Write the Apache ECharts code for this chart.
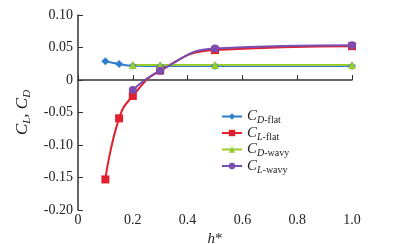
<!DOCTYPE html>
<html><head><meta charset="utf-8">
<script src="https://cdn.jsdelivr.net/npm/echarts@6/dist/echarts.min.js"></script>
<style>html,body{margin:0;padding:0;background:#fff}#c{width:403px;height:244px}</style>
</head><body><div id="c"></div>
<script>
const xFlat = [0.1, 0.15, 0.2, 0.3, 0.5, 1.0];
const cdFlat = [0.029, 0.0245, 0.022, 0.0215, 0.0215, 0.0215];
const clFlat = [-0.153, -0.059, -0.0245, 0.0145, 0.046, 0.052];
const xWavy = [0.2, 0.3, 0.5, 1.0];
const cdWavy = [0.023, 0.023, 0.023, 0.023];
const clWavy = [-0.0155, 0.0143, 0.0485, 0.0535];
const xTicks = [0, 0.2, 0.4, 0.6, 0.8, 1.0];
const yTicks = [-0.20, -0.15, -0.10, -0.05, 0, 0.05, 0.10];

const pair = (xs, ys) => xs.map((x, i) => [x, ys[i]]);
const font = 'Liberation Serif';
const rich = {
  c: {fontFamily: font, fontStyle: 'italic', fontSize: 15, color: '#222'},
  s: {fontFamily: font, fontStyle: 'italic', fontSize: 10, color: '#222', verticalAlign: 'bottom', padding: [8, 0, 0, 0]},
  n: {fontFamily: font, fontSize: 10, color: '#222', verticalAlign: 'bottom', padding: [8, 0, 0, 0]}
};
const richY = {
  c: {fontFamily: font, fontStyle: 'italic', fontSize: 17, color: '#222'},
  s: {fontFamily: font, fontStyle: 'italic', fontSize: 11, color: '#222', verticalAlign: 'bottom', padding: [9, 0, 0, 0]}
};
const legendNames = {
  'CD-flat': '{c|C}{s|D}{n|-flat}',
  'CL-flat': '{c|C}{s|L}{n|-flat}',
  'CD-wavy': '{c|C}{s|D}{n|-wavy}',
  'CL-wavy': '{c|C}{s|L}{n|-wavy}'
};
const colors = ['#2f7fd0', '#e0202c', '#9bcc2e', '#7a4db2'];
const chart = echarts.init(document.getElementById('c'));
chart.setOption({
  animation: false,
  color: colors,
  grid: {left: 78, right: 51, top: 15, bottom: 34, containLabel: false, outerBoundsMode: 'none'},
  legend: {
    orient: 'vertical', left: 216, top: 104, itemWidth: 20, itemHeight: 8, itemGap: 0,
    data: ['CD-flat', 'CL-flat', 'CD-wavy', 'CL-wavy'],
    formatter: n => legendNames[n],
    textStyle: {rich: rich, fontFamily: font}
  },
  xAxis: {
    type: 'value', min: 0, max: 1, interval: 0.2,
    name: '{i|h}{n|*}', nameLocation: 'middle', nameGap: 22,
    nameTextStyle: {rich: {i: {fontFamily: font, fontStyle: 'italic', fontSize: 15, color: '#222'}, n: {fontFamily: font, fontSize: 15, color: '#222'}}},
    axisLine: {lineStyle: {color: '#333', width: 1.5}},
    axisTick: {inside: true, length: 5, lineStyle: {color: '#333'}},
    axisLabel: {fontFamily: font, fontSize: 14, color: '#222', margin: 3,
      formatter: v => { const t = xTicks.find(k => Math.abs(k - v) < 1e-9); return t === 0 ? '0' : t.toFixed(1); }},
    splitLine: {show: false}
  },
  yAxis: {
    type: 'value', min: -0.2, max: 0.1, interval: 0.05,
    name: '{c|C}{s|L}{c|, C}{s|D}', nameLocation: 'middle', nameGap: 44, nameRotate: 90,
    nameTextStyle: {rich: richY},
    axisLine: {show: true, lineStyle: {color: '#333', width: 1.5}},
    axisTick: {show: true, inside: true, length: 5, lineStyle: {color: '#333'}},
    axisLabel: {fontFamily: font, fontSize: 14, color: '#222', margin: 5,
      formatter: v => { const t = yTicks.find(k => Math.abs(k - v) < 1e-9); return t === 0 ? '0' : t.toFixed(2); }},
    splitLine: {show: false}
  },
  series: [
    {name: 'CD-flat', type: 'line', smooth: true, data: pair(xFlat, cdFlat), symbol: 'diamond', symbolSize: 8, lineStyle: {width: 2}},
    {name: 'CL-flat', type: 'line', smooth: true, data: pair(xFlat, clFlat), symbol: 'rect', symbolSize: 8, lineStyle: {width: 2}},
    {name: 'CD-wavy', type: 'line', smooth: true, data: pair(xWavy, cdWavy), symbol: 'triangle', symbolSize: 8, lineStyle: {width: 2}},
    {name: 'CL-wavy', type: 'line', smooth: true, data: pair(xWavy, clWavy), symbol: 'circle', symbolSize: 8, lineStyle: {width: 2}}
  ]
});
</script></body></html>
